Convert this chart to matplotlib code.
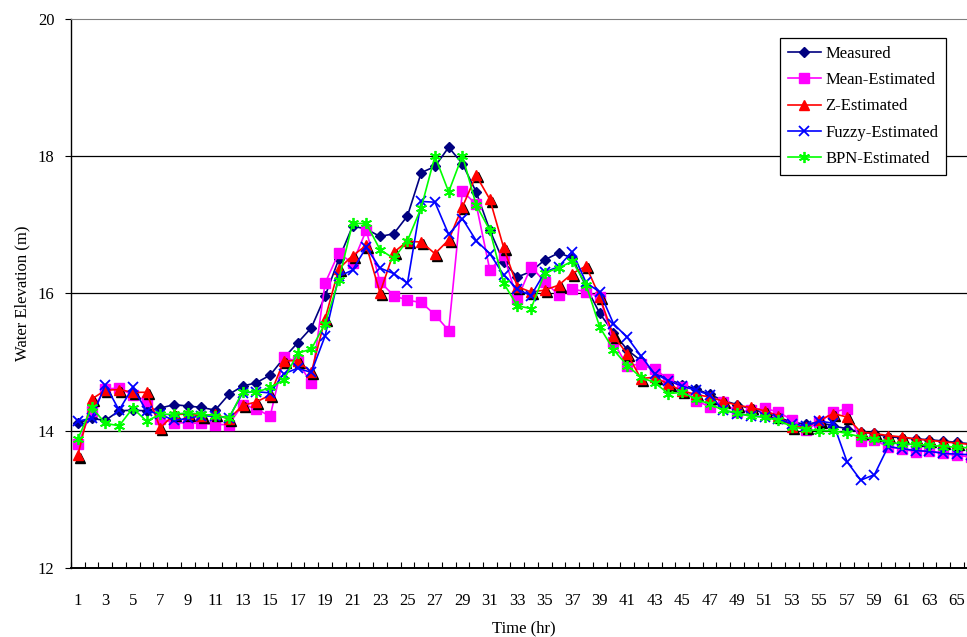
import numpy as np
import matplotlib.pyplot as plt
from matplotlib.transforms import offset_copy

# water elevation (m), hours 1..66
hours = np.arange(1, 67)

measured = [14.11, 14.18, 14.15, 14.29, 14.30, 14.29, 14.33, 14.38, 14.36, 14.34,
            14.30, 14.53, 14.65, 14.70, 14.81, 15.06, 15.28, 15.50, 15.96, 16.50,
            16.98, 16.94, 16.83, 16.87, 17.13, 17.76, 17.85, 18.13, 17.89, 17.48,
            16.92, 16.46, 16.24, 16.32, 16.49, 16.59, 16.52, 16.10, 15.71, 15.43,
            15.18, 15.02, 14.85, 14.75, 14.67, 14.61, 14.53, 14.44, 14.38, 14.32,
            14.26, 14.20, 14.12, 14.10, 14.12, 14.07, 14.03, 13.98, 13.96, 13.91,
            13.90, 13.88, 13.87, 13.85, 13.83, 13.81]

mean_est = [13.80, 14.29, 14.61, 14.62, 14.52, 14.44, 14.17, 14.12, 14.11, 14.11,
            14.09, 14.09, 14.38, 14.32, 14.21, 15.07, 15.01, 14.69, 16.15, 16.59,
            16.44, 16.92, 16.17, 15.97, 15.90, 15.87, 15.69, 15.46, 17.49, 17.30,
            16.34, 16.56, 15.92, 16.39, 16.17, 15.98, 16.07, 16.02, 15.95, 15.29,
            14.95, 14.97, 14.90, 14.75, 14.63, 14.44, 14.35, 14.42, 14.27, 14.30,
            14.33, 14.27, 14.16, 14.01, 14.13, 14.27, 14.32, 13.85, 13.87, 13.76,
            13.74, 13.69, 13.71, 13.67, 13.64, 13.62]

z_est = [13.64, 14.46, 14.59, 14.60, 14.56, 14.56, 14.04, 14.24, 14.24, 14.22,
         14.24, 14.17, 14.37, 14.42, 14.52, 15.02, 15.02, 14.85, 15.63, 16.36,
         16.55, 16.70, 16.01, 16.60, 16.76, 16.75, 16.58, 16.78, 17.26, 17.72,
         17.37, 16.67, 16.10, 16.02, 16.05, 16.12, 16.29, 16.40, 15.95, 15.38,
         15.12, 14.76, 14.78, 14.68, 14.58, 14.53, 14.49, 14.43, 14.37, 14.34,
         14.29, 14.22, 14.06, 14.05, 14.15, 14.25, 14.20, 13.98, 13.96, 13.93,
         13.91, 13.88, 13.86, 13.84, 13.82, 13.80]

fuzzy_est = [14.14, 14.18, 14.67, 14.30, 14.63, 14.29, 14.24, 14.15, 14.18, 14.22,
             14.21, 14.19, 14.55, 14.57, 14.55, 14.83, 14.91, 14.85, 15.38, 16.25,
             16.34, 16.67, 16.37, 16.29, 16.15, 17.34, 17.33, 16.86, 17.09, 16.77,
             16.58, 16.27, 16.06, 15.97, 16.31, 16.39, 16.61, 16.16, 16.02, 15.56,
             15.36, 15.09, 14.83, 14.73, 14.65, 14.59, 14.52, 14.30, 14.25, 14.22,
             14.20, 14.17, 14.10, 14.07, 14.14, 14.11, 13.55, 13.28, 13.36, 13.77,
             13.74, 13.71, 13.70, 13.67, 13.66, 13.65]

bpn_est = [13.88, 14.34, 14.11, 14.07, 14.33, 14.14, 14.24, 14.24, 14.26, 14.24,
           14.22, 14.18, 14.57, 14.56, 14.63, 14.74, 15.13, 15.19, 15.56, 16.20,
           17.02, 17.02, 16.64, 16.51, 16.77, 17.25, 18.00, 17.48, 18.01, 17.29,
           16.92, 16.15, 15.82, 15.78, 16.30, 16.37, 16.47, 16.13, 15.51, 15.18,
           14.95, 14.78, 14.70, 14.54, 14.56, 14.46, 14.39, 14.30, 14.26, 14.21,
           14.20, 14.15, 14.06, 14.02, 14.00, 14.00, 13.96, 13.91, 13.88, 13.83,
           13.81, 13.80, 13.79, 13.77, 13.76, 13.75]

plt.rcParams['font.family'] = ['Liberation Serif', 'DejaVu Serif']

fig = plt.figure(figsize=(9.67, 6.37), dpi=100)
ax = fig.add_axes([0.0734, 0.1083, 0.9374, 0.862])

# horizontal grid lines
for yv in [14, 16, 18]:
    ax.axhline(yv, color='black', lw=0.9, zorder=0)

ax.plot(hours, measured, color='#000080', marker='D', ms=5, lw=1.2, label='Measured')
ax.plot(hours, mean_est, color='#FF00FF', marker='s', ms=7, lw=1.2, label='Mean-Estimated')

# triangles with the dark drop shadow
shadow = offset_copy(ax.transData, fig=fig, x=1.5, y=-1.5, units='points')
ax.plot(hours, z_est, color='black', marker='^', ms=7, lw=0, transform=shadow)
ax.plot(hours, z_est, color='#FF0000', marker='^', ms=7, lw=1.2, label='Z-Estimated')

ax.plot(hours, fuzzy_est, color='#0000FF', marker='x', ms=7, mew=1.3, lw=1.2,
        label='Fuzzy-Estimated')
ax.plot(hours, bpn_est, color='#00FF00', marker=(6, 2, 0), ms=8, mew=1.3, lw=1.2,
        label='BPN-Estimated')

ax.set_xlim(0.5, 66.5)
ax.set_ylim(12, 20)
ax.set_yticks([12, 14, 16, 18, 20])
ax.set_xticks(np.arange(1, 66, 2))
ax.set_xticks(np.arange(0.5, 67, 1), minor=True)
ax.tick_params(axis='x', which='major', length=0, pad=18, labelsize=12)
ax.tick_params(axis='x', which='minor', direction='in', length=4, width=0.8)
ax.tick_params(axis='y', direction='out', length=4, pad=8, labelsize=12)

ax.spines['right'].set_visible(False)
ax.spines['top'].set_color('#808080')
ax.spines['left'].set_linewidth(1.0)
ax.spines['bottom'].set_linewidth(1.4)

ax.set_xlabel('Time (hr)', fontsize=12, labelpad=8)
ax.set_ylabel('Water Elevation (m)', fontsize=12, labelpad=5)

leg = ax.legend(loc='upper right', bbox_to_anchor=(0.978, 0.940),
                bbox_transform=fig.transFigure, borderaxespad=0, fontsize=12,
                fancybox=False, framealpha=1, edgecolor='black', handlelength=2.0,
                labelspacing=0.62, borderpad=0.45, handletextpad=0.25)
leg.get_frame().set_linewidth(0.9)

fig.savefig('out.png', dpi=100)
